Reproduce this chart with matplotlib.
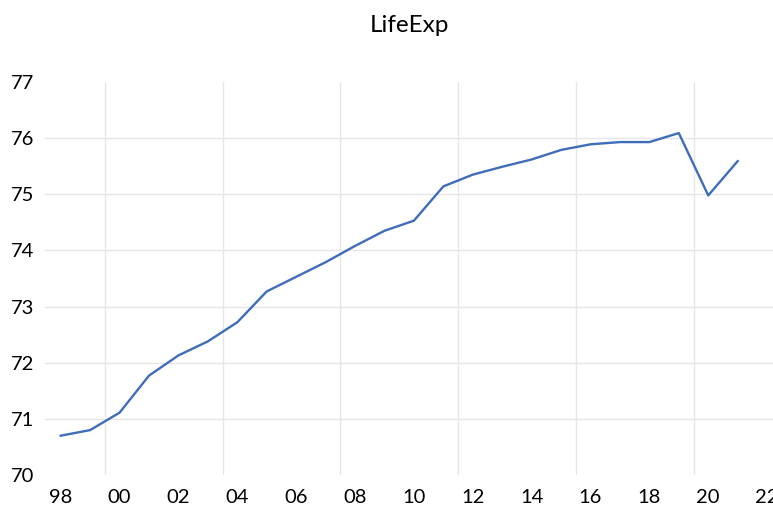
import numpy as np
import matplotlib.pyplot as plt

# life expectancy, annual 1998-2021
years = np.arange(1998, 2022)
life_exp = [70.70, 70.80, 71.11, 71.77, 72.13, 72.38, 72.72, 73.27,
            73.53, 73.79, 74.08, 74.35, 74.53, 75.14, 75.35, 75.49,
            75.62, 75.79, 75.89, 75.93, 75.93, 76.09, 74.98, 75.59]

label_years = np.arange(1998, 2023, 2)
tick_labels = [f"{y % 100:02d}" for y in label_years]
grid_years = np.arange(1999.5, 2022, 4)

plt.rcParams['font.family'] = ['Lato', 'DejaVu Sans']

fig = plt.figure(figsize=(7.73, 5.11), dpi=100)
ax = fig.add_axes([45 / 773, 36 / 511, 728 / 773, 393 / 511])

ax.plot(years, life_exp, color='#3F6DBA', linewidth=1.7, zorder=3)

ax.set_xlim(1997.467, 2022.2)
ax.set_ylim(70, 77)
ax.set_xticks(label_years)
ax.set_xticklabels(tick_labels)
ax.set_xticks(grid_years, minor=True)
ax.set_yticks(np.arange(70, 78))

ax.tick_params(axis='both', which='both', length=0, labelsize=14.5, colors='black')
ax.tick_params(axis='x', pad=10)
ax.tick_params(axis='y', pad=8)

ax.grid(which='minor', axis='x', color='#E6E6E6', linewidth=1.0)
ax.grid(which='major', axis='y', color='#E6E6E6', linewidth=1.0)
ygl = ax.get_ygridlines()
ygl[0].set_visible(False)
ygl[-1].set_visible(False)

for s in ax.spines.values():
    s.set_visible(False)

ax.set_title('LifeExp', fontsize=17.5, pad=36)

fig.savefig('out.png', dpi=100)
